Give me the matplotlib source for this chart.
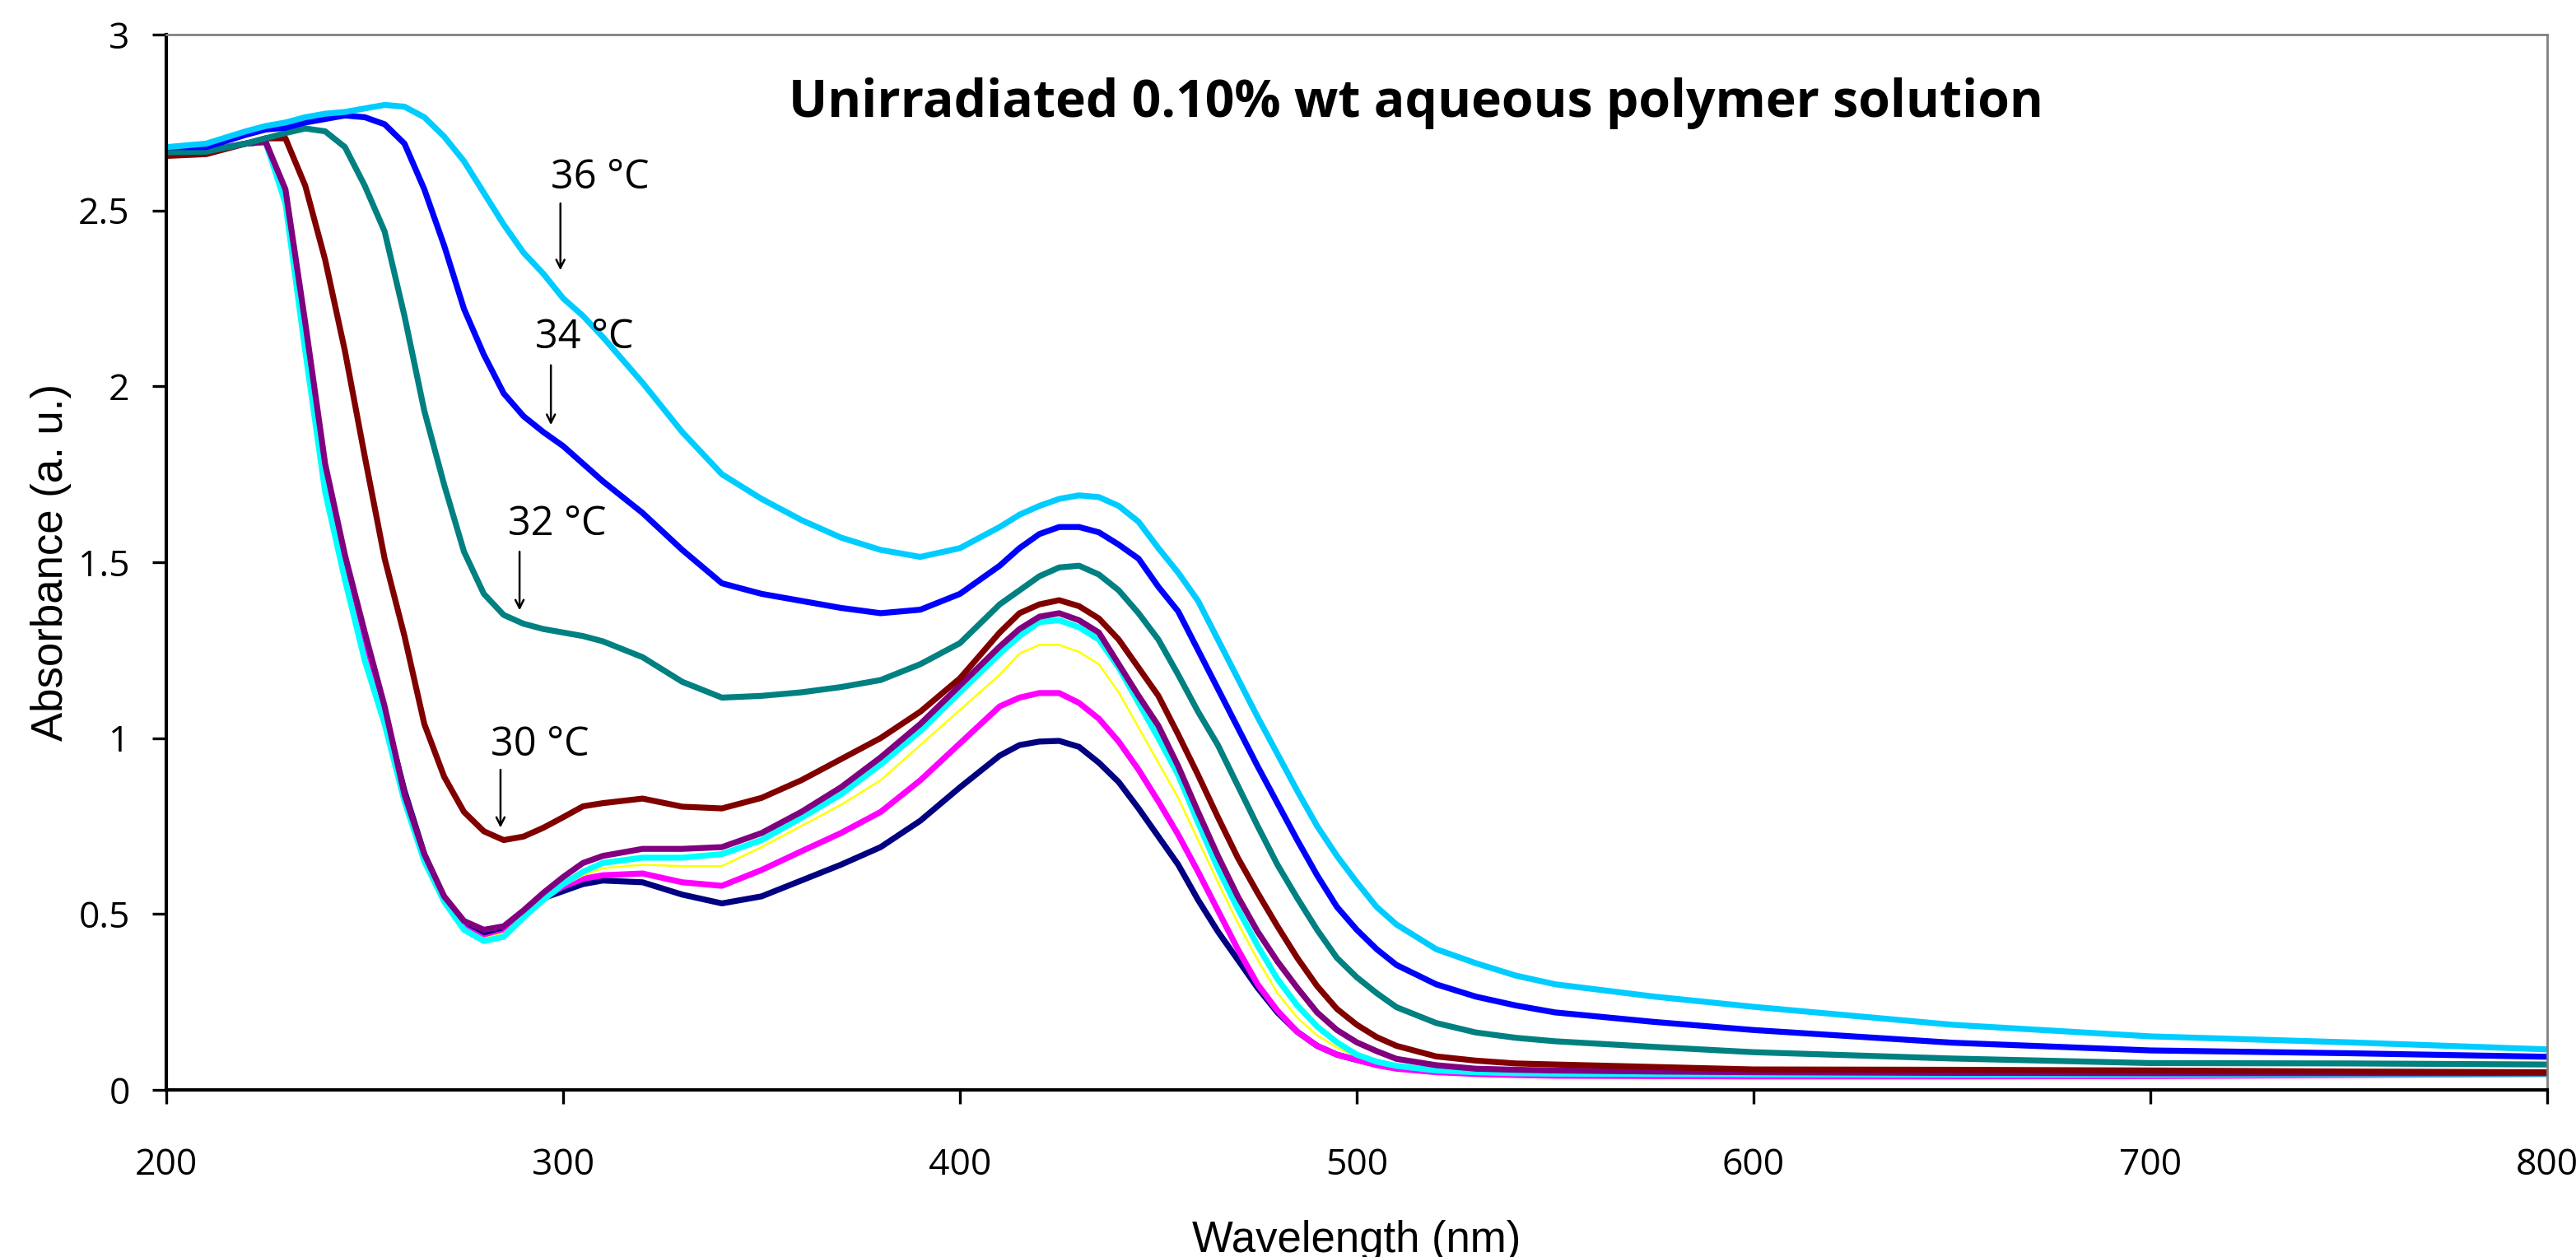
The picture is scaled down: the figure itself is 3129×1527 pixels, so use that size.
import matplotlib
matplotlib.use("Agg")
import matplotlib.pyplot as plt
import numpy as np

# wavelength grid (nm) shared by all spectra
wavelength = [200, 210, 220, 225, 230, 235, 240, 245, 250, 255, 260, 265, 270, 275, 280,
              285, 290, 295, 300, 305, 310, 320, 330, 340, 350, 360, 370, 380, 390, 400,
              410, 415, 420, 425, 430, 435, 440, 445, 450, 455, 460, 465, 470, 475, 480,
              485, 490, 495, 500, 505, 510, 520, 530, 540, 550, 575, 600, 650, 700, 750, 800]

abs_36 = [2.68, 2.69, 2.725, 2.74, 2.75, 2.765, 2.775, 2.78, 2.79, 2.80, 2.795, 2.765, 2.71, 2.64, 2.55,
          2.46, 2.38, 2.32, 2.25, 2.20, 2.14, 2.01, 1.87, 1.75, 1.68, 1.62, 1.57, 1.535, 1.515, 1.54,
          1.60, 1.635, 1.66, 1.68, 1.69, 1.685, 1.66, 1.615, 1.54, 1.47, 1.39, 1.28, 1.17, 1.06, 0.955,
          0.85, 0.75, 0.665, 0.59, 0.52, 0.47, 0.40, 0.36, 0.325, 0.30, 0.265, 0.236, 0.185, 0.152, 0.135, 0.115]

abs_34 = [2.68, 2.68, 2.715, 2.73, 2.735, 2.75, 2.76, 2.77, 2.765, 2.745, 2.69, 2.56, 2.40, 2.22, 2.09,
          1.98, 1.915, 1.87, 1.83, 1.78, 1.73, 1.64, 1.535, 1.44, 1.41, 1.39, 1.37, 1.355, 1.365, 1.41,
          1.49, 1.54, 1.58, 1.60, 1.60, 1.585, 1.55, 1.51, 1.43, 1.36, 1.25, 1.14, 1.03, 0.92, 0.815,
          0.71, 0.61, 0.52, 0.455, 0.40, 0.355, 0.30, 0.265, 0.24, 0.22, 0.193, 0.17, 0.134, 0.112, 0.104, 0.094]

abs_32 = [2.665, 2.667, 2.69, 2.705, 2.72, 2.733, 2.725, 2.68, 2.57, 2.44, 2.20, 1.93, 1.72, 1.53, 1.41,
          1.35, 1.325, 1.31, 1.30, 1.29, 1.275, 1.23, 1.16, 1.115, 1.12, 1.13, 1.145, 1.165, 1.21, 1.27,
          1.38, 1.42, 1.46, 1.485, 1.49, 1.465, 1.42, 1.355, 1.28, 1.18, 1.075, 0.98, 0.865, 0.75, 0.64,
          0.545, 0.455, 0.375, 0.32, 0.275, 0.235, 0.19, 0.163, 0.148, 0.138, 0.122, 0.107, 0.089, 0.076, 0.075, 0.072]

abs_30 = [2.655, 2.66, 2.69, 2.705, 2.705, 2.57, 2.36, 2.10, 1.80, 1.51, 1.29, 1.04, 0.89, 0.79, 0.735,
          0.71, 0.72, 0.745, 0.775, 0.806, 0.815, 0.828, 0.805, 0.80, 0.83, 0.88, 0.94, 1.00, 1.075, 1.17,
          1.30, 1.355, 1.38, 1.392, 1.375, 1.34, 1.28, 1.20, 1.12, 1.01, 0.895, 0.775, 0.66, 0.56, 0.465,
          0.375, 0.295, 0.23, 0.185, 0.15, 0.125, 0.095, 0.083, 0.075, 0.072, 0.065, 0.058, 0.057, 0.055, 0.052, 0.05]

abs_purple = [2.665, 2.668, 2.69, 2.695, 2.56, 2.18, 1.78, 1.52, 1.30, 1.09, 0.84, 0.67, 0.55, 0.48, 0.455,
              0.465, 0.51, 0.56, 0.605, 0.645, 0.665, 0.685, 0.685, 0.69, 0.73, 0.79, 0.86, 0.945, 1.04, 1.15,
              1.26, 1.31, 1.345, 1.355, 1.335, 1.30, 1.21, 1.12, 1.035, 0.92, 0.79, 0.665, 0.55, 0.45, 0.365,
              0.29, 0.22, 0.17, 0.135, 0.11, 0.088, 0.07, 0.06, 0.057, 0.055, 0.052, 0.05, 0.048, 0.047, 0.047, 0.047]

abs_cyan = [2.665, 2.67, 2.69, 2.695, 2.52, 2.10, 1.70, 1.45, 1.22, 1.04, 0.82, 0.65, 0.535, 0.455, 0.423,
            0.435, 0.49, 0.54, 0.585, 0.62, 0.645, 0.66, 0.66, 0.67, 0.71, 0.773, 0.84, 0.925, 1.02, 1.13,
            1.24, 1.29, 1.33, 1.335, 1.315, 1.28, 1.20, 1.10, 1.0, 0.895, 0.76, 0.63, 0.515, 0.41, 0.315,
            0.24, 0.18, 0.135, 0.10, 0.08, 0.068, 0.055, 0.05, 0.047, 0.046, 0.045, 0.044, 0.043, 0.043, 0.044, 0.045]

abs_yellow = [2.665, 2.67, 2.69, 2.695, 2.53, 2.12, 1.72, 1.47, 1.24, 1.05, 0.83, 0.66, 0.54, 0.46, 0.43,
              0.445, 0.495, 0.55, 0.58, 0.61, 0.63, 0.64, 0.636, 0.636, 0.69, 0.75, 0.81, 0.88, 0.98, 1.08,
              1.18, 1.24, 1.265, 1.265, 1.245, 1.21, 1.13, 1.03, 0.93, 0.83, 0.71, 0.59, 0.475, 0.37, 0.275,
              0.205, 0.155, 0.12, 0.095, 0.08, 0.068, 0.055, 0.05, 0.047, 0.046, 0.045, 0.044, 0.043, 0.043, 0.044, 0.045]

abs_magenta = [2.665, 2.67, 2.69, 2.695, 2.54, 2.13, 1.74, 1.49, 1.26, 1.06, 0.84, 0.66, 0.54, 0.46, 0.43,
               0.445, 0.495, 0.545, 0.578, 0.60, 0.61, 0.615, 0.59, 0.58, 0.625, 0.678, 0.73, 0.79, 0.88, 0.985,
               1.09, 1.115, 1.128, 1.128, 1.10, 1.055, 0.99, 0.91, 0.82, 0.725, 0.62, 0.51, 0.40, 0.30, 0.225,
               0.165, 0.125, 0.10, 0.085, 0.07, 0.06, 0.05, 0.045, 0.042, 0.04, 0.039, 0.038, 0.038, 0.039, 0.042, 0.045]

abs_navy = [2.665, 2.67, 2.69, 2.695, 2.55, 2.15, 1.77, 1.51, 1.28, 1.07, 0.85, 0.67, 0.545, 0.47, 0.44,
            0.45, 0.50, 0.545, 0.565, 0.585, 0.595, 0.59, 0.555, 0.53, 0.55, 0.595, 0.64, 0.69, 0.765, 0.86,
            0.95, 0.98, 0.99, 0.992, 0.975, 0.93, 0.875, 0.80, 0.72, 0.64, 0.54, 0.45, 0.37, 0.29, 0.22,
            0.165, 0.125, 0.10, 0.085, 0.072, 0.062, 0.052, 0.048, 0.046, 0.045, 0.044, 0.044, 0.044, 0.045, 0.046, 0.047]

# temperature labels with their arrows
labels = ["36 °C", "34 °C", "32 °C", "30 °C"]
arrow_x = [299.3, 296.9, 289.0, 284.2]
arrow_top = [2.52, 2.06, 1.53, 0.91]
arrow_bottom = [2.33, 1.89, 1.363, 0.745]
text_x = [309.3, 305.4, 298.5, 294.2]
text_y = [2.593, 2.138, 1.607, 0.98]

series = [
    (abs_navy, "#000080", 2.6),
    (abs_magenta, "#FF00FF", 2.6),
    (abs_yellow, "#FFFF00", 0.9),
    (abs_cyan, "#00FFFF", 2.6),
    (abs_purple, "#800080", 2.6),
    (abs_30, "#800000", 2.6),
    (abs_32, "#008080", 2.6),
    (abs_34, "#0000FF", 2.6),
    (abs_36, "#00CCFF", 2.6),
]

plt.rcParams['font.family'] = ['Open Sans', 'DejaVu Sans']

fig = plt.figure(figsize=(15.645, 7.635), dpi=200)
ax = fig.add_axes([0.0646, 0.133, 0.9242, 0.8395])

for y, c, lw in series:
    ax.plot(wavelength, y, color=c, lw=lw, solid_joinstyle='round')

for lab, xa, yt, yb, tx, ty in zip(labels, arrow_x, arrow_top, arrow_bottom, text_x, text_y):
    ax.annotate('', xy=(xa, yb), xytext=(xa, yt),
                arrowprops=dict(arrowstyle='->', color='black', lw=0.9, mutation_scale=9,
                                shrinkA=0, shrinkB=0))
    ax.text(tx, ty, lab, ha='center', va='center', fontsize=17.5)

ax.text(0.525, 0.935, "Unirradiated 0.10% wt aqueous polymer solution", transform=ax.transAxes,
        ha='center', va='center', fontsize=22.5, fontweight='bold')

ax.set_xlim(200, 800)
ax.set_ylim(0, 3)
ax.set_xticks(np.arange(200, 801, 100))
ax.set_yticks(np.arange(0, 3.01, 0.5))
ax.set_yticklabels(["0", "0.5", "1", "1.5", "2", "2.5", "3"])

for s in ['top', 'right']:
    ax.spines[s].set_color('#808080')
    ax.spines[s].set_linewidth(1.0)
for s in ['left', 'bottom']:
    ax.spines[s].set_color('black')
    ax.spines[s].set_linewidth(1.5)

ax.tick_params(axis='both', direction='out', length=6, width=1.2, labelsize=16)
ax.tick_params(axis='x', pad=19)
ax.tick_params(axis='y', pad=10)

ax.set_xlabel("Wavelength (nm)", fontsize=19, family='Liberation Sans', labelpad=16)
ax.set_ylabel("Absorbance (a. u.)", fontsize=19, family='Liberation Sans', labelpad=3)

fig.savefig("out.png", dpi=200)
